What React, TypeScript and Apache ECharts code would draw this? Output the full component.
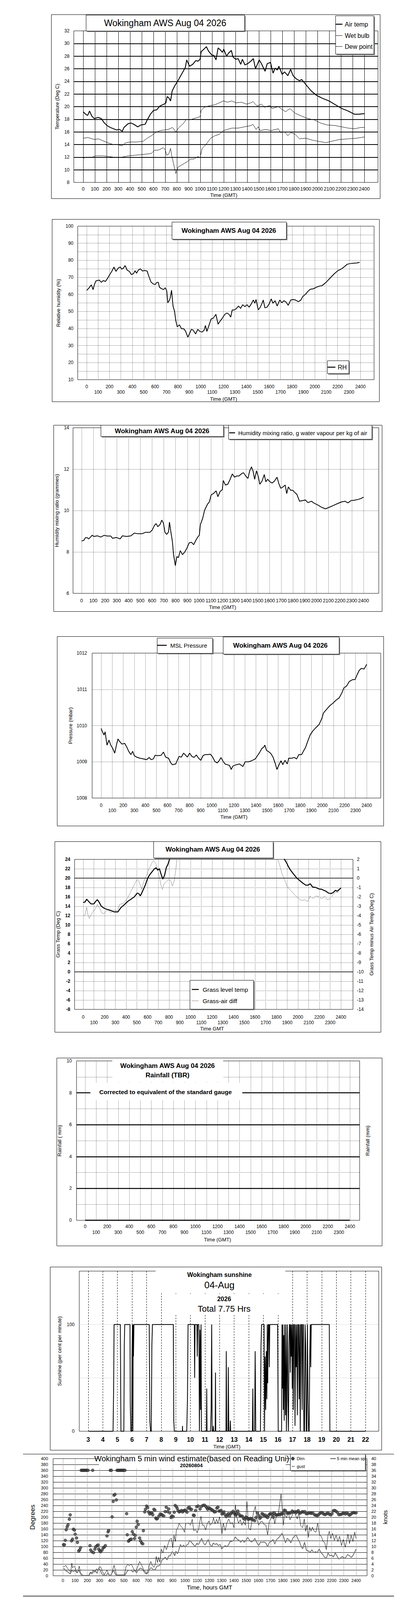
import React, { useEffect, useRef } from "react";
import * as echarts from "echarts";

const FONT = '"Liberation Sans", Arial, Helvetica, sans-serif';
const TITLE = "Wokingham AWS Aug 04 2026";

type Pt = [number, number];

// ---------- Chart 1: temperatures (Deg C) vs time (GMT, hhmm) ----------
const airTemp: Pt[] = [[0,19.2],[15,18.9],[38,18.6],[54,19.3],[74,18.5],[96,18.1],[128,18.3],[155,18.1],[177,17.5],[204,17.0],[231,16.7],[258,16.5],[285,16.3],[309,16.4],[334,16.1],[348,16.7],[384,17.3],[408,17.4],[433,17.2],[466,16.8],[493,17.1],[529,17.2],[547,17.9],[574,18.8],[601,19.4],[628,19.5],[655,20.1],[691,20.4],[706,20.6],[717,21.6],[731,21.4],[746,20.9],[760,22.5],[782,23.3],[809,24.1],[827,24.7],[854,25.6],[872,26.2],[884,27.4],[908,26.4],[935,26.7],[962,27.3],[980,27.2],[998,27.5],[1007,28.7],[1025,29.0],[1052,29.5],[1070,28.8],[1097,28.2],[1116,28.1],[1134,27.4],[1152,29.3],[1175,28.9],[1188,28.6],[1200,29.1],[1224,28.0],[1242,28.5],[1265,28.9],[1278,27.9],[1301,27.5],[1323,27.6],[1345,26.7],[1359,27.5],[1381,26.6],[1404,26.8],[1431,27.2],[1453,27.6],[1471,26.0],[1503,27.4],[1522,26.8],[1542,26.0],[1553,25.6],[1571,26.8],[1599,27.0],[1621,25.3],[1639,26.1],[1657,25.8],[1671,26.4],[1699,25.1],[1720,25.5],[1747,24.9],[1771,25.9],[1792,24.9],[1819,24.4],[1847,24.1],[1865,24.3],[1901,23.5],[1946,22.5],[1991,21.8],[2045,21.3],[2099,20.9],[2153,20.3],[2208,19.7],[2262,19.3],[2316,18.8],[2352,18.8],[2400,18.9]];
const wetBulb: Pt[] = [[0,15.0],[42,15.1],[96,14.8],[132,14.9],[168,14.6],[222,14.2],[258,14.0],[294,14.0],[330,13.8],[366,14.3],[403,14.4],[457,14.4],[511,14.5],[547,15.0],[583,15.4],[619,15.9],[655,16.2],[691,16.3],[727,16.4],[763,16.7],[791,16.0],[818,16.7],[854,17.3],[881,18.0],[908,17.9],[944,18.1],[998,18.4],[1007,19.4],[1034,19.9],[1070,20.1],[1125,20.3],[1161,20.6],[1197,20.9],[1233,20.7],[1269,20.9],[1305,20.6],[1350,20.7],[1395,20.4],[1431,20.6],[1449,20.8],[1485,20.1],[1522,20.4],[1549,19.9],[1594,20.2],[1612,19.7],[1666,20.0],[1702,19.5],[1729,19.2],[1765,19.7],[1810,18.95],[1865,18.5],[1919,18.1],[1973,17.9],[2027,17.4],[2081,17.1],[2153,17.0],[2208,16.8],[2262,16.6],[2316,16.5],[2370,16.7],[2400,16.7]];
const dewPoint: Pt[] = [[0,11.8],[23,12.0],[78,12.0],[105,12.2],[168,12.2],[222,12.1],[258,12.0],[330,12.0],[384,12.2],[439,12.3],[493,12.4],[547,12.5],[583,12.6],[610,13.1],[637,13.1],[664,13.3],[682,13.5],[700,13.2],[713,12.3],[731,12.5],[746,13.4],[755,12.3],[764,11.6],[776,10.6],[791,9.4],[809,10.4],[836,10.7],[863,11.0],[890,11.3],[917,11.7],[944,11.7],[980,12.1],[998,11.9],[1016,13.4],[1043,13.9],[1061,14.3],[1088,15.0],[1125,15.4],[1161,15.6],[1197,16.2],[1233,16.4],[1269,16.6],[1323,16.6],[1377,16.8],[1431,17.0],[1449,17.2],[1476,16.4],[1494,16.8],[1512,16.2],[1558,16.4],[1603,16.2],[1666,16.5],[1684,15.9],[1720,16.0],[1747,15.4],[1774,15.9],[1810,15.6],[1847,14.9],[1901,15.0],[1955,14.7],[2009,14.5],[2072,14.3],[2117,14.5],[2190,14.8],[2262,14.9],[2334,15.0],[2400,15.2]];

// ---------- Chart 2: relative humidity (%) ----------
const relHumidity: Pt[] = [[0,62.4],[17,63.5],[41,65.6],[56,62.8],[67,65.6],[81,67.9],[109,68.4],[128,67.1],[146,68.1],[165,67.6],[183,69.4],[202,71.6],[220,73.5],[239,76.0],[257,73.5],[276,75.4],[294,76.1],[307,74.8],[322,75.4],[337,76.9],[355,74.2],[374,73.5],[392,71.6],[411,72.2],[424,73.9],[437,72.4],[452,74.2],[470,75.0],[489,73.7],[507,74.0],[530,73.7],[544,70.8],[563,67.4],[581,66.2],[600,65.8],[615,67.0],[628,67.1],[637,64.3],[652,63.5],[674,62.8],[689,63.9],[702,62.0],[711,55.1],[726,56.6],[733,58.2],[744,62.4],[757,53.2],[770,50.2],[781,44.8],[794,41.0],[813,42.2],[831,39.9],[850,39.9],[868,38.3],[887,34.9],[900,36.8],[918,39.5],[933,39.1],[955,36.8],[974,39.5],[993,38.3],[1011,37.9],[1030,39.1],[1041,41.8],[1054,38.3],[1072,41.8],[1091,45.6],[1109,46.0],[1133,48.3],[1152,42.5],[1170,44.4],[1189,46.0],[1211,48.3],[1230,49.1],[1248,48.3],[1263,46.7],[1276,50.9],[1294,50.9],[1313,51.7],[1331,53.2],[1350,51.8],[1368,54.0],[1387,52.8],[1405,54.0],[1424,52.5],[1443,54.4],[1461,56.7],[1474,54.8],[1485,57.0],[1504,50.9],[1522,52.5],[1535,54.4],[1548,56.7],[1563,52.1],[1581,52.5],[1600,54.4],[1618,57.4],[1633,54.8],[1652,56.3],[1670,53.2],[1693,56.7],[1711,55.1],[1730,56.3],[1748,55.5],[1767,53.6],[1789,56.7],[1813,57.0],[1831,56.7],[1856,55.7],[1878,56.7],[1896,58.9],[1919,60.1],[1943,62.0],[1961,63.0],[1989,63.3],[2017,64.3],[2044,64.9],[2063,65.1],[2091,66.6],[2119,68.5],[2146,70.4],[2174,72.3],[2202,73.9],[2230,74.8],[2257,76.1],[2285,77.7],[2313,78.1],[2341,78.3],[2369,78.4],[2393,78.8]];

// ---------- Chart 3: humidity mixing ratio (g/kg) ----------
const mixingRatio: Pt[] = [[0,8.53],[19,8.56],[32,8.69],[48,8.69],[61,8.63],[76,8.72],[90,8.81],[105,8.75],[134,8.78],[162,8.72],[191,8.80],[219,8.77],[248,8.77],[263,8.66],[296,8.70],[328,8.63],[347,8.78],[382,8.75],[420,8.78],[448,8.91],[477,8.88],[515,8.88],[544,8.95],[582,8.95],[601,9.06],[620,9.28],[634,9.37],[649,9.22],[668,9.33],[683,9.54],[697,9.38],[710,8.94],[725,8.85],[740,8.97],[748,9.44],[759,9.00],[773,8.50],[782,7.90],[798,7.34],[811,7.78],[824,7.72],[840,8.06],[859,7.87],[878,8.00],[897,8.19],[916,8.44],[935,8.47],[954,8.35],[973,8.57],[989,8.72],[1002,8.81],[1011,9.32],[1031,9.63],[1046,10.0],[1059,10.16],[1073,10.32],[1088,10.42],[1103,10.76],[1122,10.82],[1145,10.95],[1160,10.67],[1179,10.92],[1198,11.01],[1206,11.45],[1225,11.23],[1244,11.27],[1263,11.49],[1283,11.77],[1302,11.61],[1321,11.67],[1340,11.67],[1359,11.77],[1378,11.83],[1397,11.67],[1416,11.55],[1431,11.92],[1446,12.11],[1460,11.90],[1473,11.51],[1489,11.92],[1504,11.64],[1517,11.27],[1536,11.42],[1555,11.74],[1568,11.39],[1584,11.51],[1603,11.39],[1622,11.33],[1641,11.42],[1664,11.61],[1679,11.30],[1695,11.08],[1714,11.14],[1733,11.23],[1746,10.82],[1760,11.14],[1779,10.98],[1798,10.98],[1817,10.86],[1832,10.79],[1855,10.45],[1880,10.48],[1905,10.51],[1927,10.38],[1956,10.45],[1981,10.35],[2013,10.26],[2042,10.16],[2076,10.08],[2109,10.16],[2137,10.23],[2176,10.33],[2214,10.42],[2242,10.45],[2267,10.37],[2294,10.48],[2324,10.50],[2357,10.54],[2385,10.60],[2400,10.65]];

// ---------- Chart 4: MSL pressure (mbar) ----------
const mslPressure: Pt[] = [[0,1009.92],[12,1009.83],[26,1009.74],[36,1009.83],[53,1009.46],[71,1009.60],[87,1009.46],[103,1009.38],[123,1009.24],[138,1009.46],[152,1009.63],[168,1009.56],[188,1009.49],[213,1009.51],[233,1009.40],[249,1009.29],[269,1009.20],[285,1009.29],[300,1009.17],[320,1009.13],[350,1009.10],[381,1009.08],[411,1009.06],[435,1009.12],[451,1009.06],[472,1009.08],[488,1009.18],[512,1009.17],[543,1009.18],[563,1009.27],[583,1009.13],[609,1009.10],[630,1008.97],[644,1008.92],[674,1008.94],[691,1009.06],[705,1009.15],[725,1009.13],[745,1009.24],[765,1009.18],[779,1009.13],[800,1009.24],[820,1009.15],[840,1009.12],[860,1009.19],[881,1009.10],[901,1009.04],[921,1009.17],[941,1009.20],[962,1009.20],[988,1009.21],[1008,1009.13],[1028,1009.01],[1049,1008.97],[1069,1009.04],[1083,1009.12],[1099,1009.03],[1120,1008.94],[1140,1008.92],[1160,1008.90],[1176,1008.79],[1190,1008.88],[1221,1008.92],[1251,1008.94],[1281,1008.87],[1302,1009.00],[1332,1009.00],[1362,1009.03],[1393,1009.08],[1413,1009.17],[1433,1009.26],[1453,1009.37],[1468,1009.40],[1480,1009.46],[1494,1009.32],[1514,1009.28],[1534,1009.23],[1555,1009.12],[1575,1008.94],[1589,1008.79],[1605,1008.90],[1626,1009.03],[1642,1008.92],[1662,1009.04],[1682,1008.94],[1696,1009.10],[1723,1009.10],[1747,1009.12],[1767,1009.08],[1787,1009.20],[1812,1009.20],[1828,1009.29],[1848,1009.40],[1869,1009.58],[1889,1009.74],[1913,1009.85],[1940,1009.94],[1970,1010.03],[1994,1010.19],[2010,1010.35],[2041,1010.46],[2067,1010.55],[2096,1010.62],[2123,1010.70],[2153,1010.77],[2177,1010.91],[2194,1011.04],[2218,1011.09],[2244,1011.22],[2275,1011.27],[2295,1011.27],[2315,1011.41],[2332,1011.52],[2352,1011.58],[2376,1011.56],[2386,1011.61],[2400,1011.69]];

// ---------- Chart 5: grass temperature (left, Deg C) and grass-air difference (right, Deg C) ----------
const grassTemp: Pt[] = [[0,14.8],[17,14.9],[33,15.5],[48,15.1],[73,14.5],[100,14.5],[115,15.0],[132,15.4],[148,14.9],[169,14.0],[194,13.6],[225,13.3],[257,13.1],[288,12.8],[324,12.8],[351,13.7],[382,14.3],[413,15.0],[445,15.5],[476,16.0],[503,16.8],[518,16.7],[532,16.2],[553,17.2],[580,18.6],[601,20.0],[622,20.8],[643,21.4],[664,22.0],[678,22.2],[695,21.7],[710,22.0],[726,20.8],[741,19.8],[758,20.6],[775,22.3],[789,22.9],[804,24.0],[817,24.5],[831,24.3],[848,24.8],[900,27.5],[1000,30.0],[1200,33.0],[1400,32.5],[1600,30.0],[1800,26.5],[1875,24.0],[1896,23.2],[1910,22.5],[1931,21.7],[1958,20.9],[1990,20.0],[2021,19.4],[2048,18.9],[2073,18.5],[2094,18.5],[2115,18.8],[2136,18.1],[2167,18.0],[2194,17.7],[2223,17.6],[2261,17.2],[2286,16.8],[2307,16.7],[2328,16.9],[2349,17.4],[2365,17.2],[2386,17.6],[2400,17.9]];
const grassAirDiff: Pt[] = [[0,-4.0],[15,-4.0],[33,-3.1],[44,-3.9],[58,-4.3],[73,-3.9],[90,-3.6],[111,-3.3],[132,-2.8],[152,-3.2],[173,-3.7],[194,-3.8],[215,-3.5],[236,-3.3],[257,-3.7],[288,-3.4],[319,-3.5],[340,-2.8],[372,-2.7],[403,-2.3],[424,-1.9],[449,-1.3],[476,-0.7],[503,-0.1],[518,-0.3],[545,-1.2],[566,-0.3],[587,0.2],[608,0.9],[628,1.3],[643,1.7],[658,1.85],[678,1.5],[695,0.9],[712,0.0],[726,-0.85],[737,-1.2],[753,-0.6],[774,-0.4],[795,-0.15],[816,-0.3],[831,-0.85],[848,-0.3],[862,0.8],[873,2.0],[950,3.8],[1200,4.8],[1500,4.5],[1750,3.2],[1812,2.0],[1827,1.5],[1844,0.8],[1854,0.4],[1875,-0.15],[1896,-0.8],[1923,-1.2],[1948,-1.5],[1979,-1.9],[2010,-2.2],[2035,-2.4],[2062,-2.3],[2090,-2.5],[2115,-1.9],[2140,-2.2],[2167,-1.9],[2198,-2.0],[2223,-2.2],[2250,-1.9],[2271,-2.3],[2298,-2.2],[2324,-1.8],[2349,-1.5],[2370,-1.55],[2386,-1.2],[2400,-1.05]];

// ---------- Chart 6: rainfall (mm) ----------
const rainfall: Pt[] = [[0,0],[100,0],[200,0],[300,0],[400,0],[500,0],[600,0],[700,0],[800,0],[900,0],[1000,0],[1100,0],[1200,0],[1300,0],[1400,0],[1500,0],[1600,0],[1700,0],[1800,0],[1900,0],[2000,0],[2100,0],[2200,0],[2300,0],[2400,0]];

// ---------- Chart 7: sunshine (per cent per minute) vs hour ----------
const sunshine: Pt[] = [[3.03,0],[4.70,0],[4.74,40],[4.77,100],[5.20,100],[5.24,0],[5.44,0],[5.47,80],[5.50,100],[5.86,100],[5.88,25],[5.92,0],[5.98,0],[6.00,70],[6.03,100],[6.06,0],[6.08,100],[6.10,70],[6.13,100],[7.18,100],[7.22,10],[7.27,0],[7.32,0],[7.36,80],[7.40,100],[8.83,100],[8.86,10],[8.90,0],[9.45,0],[9.46,5],[9.47,0],[9.75,0],[9.80,30],[9.84,100],[10.27,100],[10.29,50],[10.32,100],[10.45,100],[10.47,70],[10.50,100],[10.58,100],[10.62,0],[10.66,95],[10.70,20],[10.73,100],[10.76,0],[11.10,0],[11.12,40],[11.14,0],[11.38,0],[11.42,20],[11.46,100],[11.49,0],[11.55,0],[11.57,5],[11.60,0],[11.70,0],[11.72,55],[11.74,0],[12.44,0],[12.46,75],[12.49,0],[12.58,0],[12.60,60],[12.63,0],[12.72,0],[12.74,10],[12.76,0],[14.25,0],[14.28,40],[14.30,0],[14.40,0],[14.44,75],[14.48,0],[14.80,0],[14.84,80],[14.88,100],[15.05,100],[15.08,0],[15.12,70],[15.16,20],[15.20,75],[15.24,30],[15.27,100],[15.30,45],[15.34,100],[15.38,100],[15.41,60],[15.44,100],[15.98,100],[16.02,0],[16.25,0],[16.28,100],[16.31,40],[16.34,100],[16.37,20],[16.40,90],[16.43,10],[16.46,100],[16.49,50],[16.52,15],[16.55,100],[16.58,0],[16.62,60],[16.65,100],[16.68,30],[16.72,0],[16.76,80],[16.79,100],[16.82,100],[16.85,55],[16.88,100],[16.91,70],[16.95,100],[16.98,40],[17.02,100],[17.05,20],[17.09,100],[17.13,100],[17.17,5],[17.21,100],[17.25,60],[17.29,100],[17.33,15],[17.37,100],[17.41,100],[17.45,30],[17.49,100],[17.53,0],[17.57,100],[17.62,100],[17.66,20],[17.70,100],[17.74,100],[17.78,0],[17.82,0],[17.86,100],[17.90,80],[17.94,0],[17.98,0],[18.02,100],[18.06,30],[18.10,0],[18.14,0],[18.18,70],[18.22,100],[18.25,60],[18.28,100],[19.52,100],[19.56,0],[22.0,0]];

// ---------- Chart 8: wind direction (degrees), mean speed and gust (knots) ----------
const windDirection: Pt[] = [[5,106],[13,106],[20,121],[27,157],[35,167],[42,174],[53,193],[60,208],[71,119],[79,125],[86,159],[95,156],[101,142],[112,129],[119,114],[130,85],[137,88],[145,96],[150,360],[158,360],[166,360],[174,360],[182,360],[190,360],[198,360],[206,360],[222,103],[227,88],[238,82],[244,360],[251,79],[262,91],[269,99],[280,103],[288,105],[293,91],[302,85],[310,82],[321,88],[331,96],[339,98],[348,103],[361,136],[370,150],[375,155],[388,360],[397,360],[403,201],[412,254],[419,275],[427,278],[438,259],[443,360],[452,360],[460,360],[468,360],[476,360],[484,360],[492,360],[500,360],[508,360],[522,212],[527,140],[537,118],[544,121],[551,124],[559,125],[568,151],[577,142],[586,127],[592,138],[601,166],[608,186],[617,175],[628,129],[636,119],[645,112],[654,109],[659,154],[670,218],[676,227],[685,238],[694,233],[701,218],[711,211],[720,215],[729,215],[736,208],[745,227],[753,224],[760,197],[767,194],[775,196],[786,204],[797,211],[808,209],[815,207],[826,204],[837,219],[846,234],[855,219],[866,228],[874,215],[885,199],[892,204],[903,202],[912,217],[919,240],[929,236],[936,230],[943,222],[952,218],[962,220],[971,223],[980,218],[989,222],[998,224],[1007,222],[1016,217],[1024,231],[1035,234],[1044,227],[1053,227],[1068,207],[1075,206],[1086,223],[1095,236],[1108,238],[1123,228],[1134,237],[1147,240],[1158,241],[1170,237],[1178,232],[1185,227],[1194,232],[1203,230],[1212,227],[1222,225],[1231,222],[1240,218],[1251,219],[1260,231],[1269,234],[1278,221],[1288,221],[1295,223],[1302,211],[1310,214],[1319,218],[1328,208],[1337,202],[1346,208],[1355,212],[1364,204],[1374,212],[1383,215],[1392,220],[1401,215],[1408,210],[1416,207],[1423,212],[1432,221],[1441,211],[1450,204],[1460,204],[1469,203],[1478,196],[1487,193],[1498,200],[1507,198],[1516,193],[1526,194],[1535,196],[1544,193],[1557,191],[1570,188],[1581,199],[1593,215],[1603,206],[1612,196],[1621,200],[1630,212],[1639,210],[1648,204],[1658,207],[1667,201],[1676,199],[1685,207],[1694,211],[1703,212],[1712,210],[1722,200],[1731,214],[1740,209],[1749,207],[1760,208],[1767,210],[1777,208],[1786,212],[1795,211],[1804,214],[1813,224],[1822,222],[1833,214],[1845,215],[1855,214],[1866,215],[1877,221],[1888,217],[1900,219],[1909,215],[1918,219],[1927,222],[1938,214],[1947,215],[1960,219],[1969,217],[1980,219],[1991,212],[2002,212],[2013,215],[2024,214],[2035,213],[2046,214],[2060,208],[2071,207],[2082,205],[2093,209],[2104,213],[2115,216],[2126,214],[2137,210],[2148,209],[2159,212],[2170,214],[2181,210],[2192,208],[2203,212],[2214,222],[2225,223],[2236,220],[2247,216],[2258,209],[2269,209],[2280,210],[2291,213],[2302,214],[2313,211],[2324,215],[2335,211],[2346,207],[2357,210],[2368,214],[2379,216],[2390,215],[2400,215]];
const windMean: Pt[] = [[4,2.4],[13,2.4],[24,1.7],[42,1.3],[60,0.6],[73,1.9],[86,1.4],[101,1.9],[115,1.0],[130,1.9],[145,0.8],[152,0.1],[165,0.1],[201,0.1],[214,0.1],[225,1.0],[238,0.6],[251,1.3],[266,1.9],[280,0.8],[293,2.6],[306,2.0],[321,0.5],[335,0.1],[353,0.1],[366,0.8],[379,0.3],[390,0.1],[403,1.0],[416,1.9],[430,0.5],[440,0.1],[507,0.1],[522,1.3],[537,1.9],[559,1.9],[573,1.3],[588,1.9],[603,1.0],[617,1.9],[632,2.6],[647,2.4],[659,1.6],[672,1.6],[687,0.6],[700,1.3],[714,2.6],[727,2.7],[742,1.9],[756,2.2],[771,3.3],[786,3.4],[797,3.8],[811,5.4],[824,5.7],[837,6.4],[852,5.4],[866,6.8],[879,6.8],[894,8.2],[907,7.7],[916,6.8],[925,8.4],[938,7.5],[951,9.1],[962,10.7],[974,9.8],[987,10.5],[1000,9.8],[1013,10.5],[1026,10.8],[1038,12.1],[1053,11.4],[1068,10.7],[1081,9.9],[1095,11.0],[1110,10.7],[1123,11.7],[1136,12.8],[1150,11.2],[1163,10.5],[1178,11.5],[1190,12.4],[1203,10.8],[1218,9.9],[1231,11.2],[1245,10.7],[1258,11.0],[1273,10.3],[1288,10.7],[1300,9.1],[1313,9.8],[1328,10.3],[1342,9.9],[1355,10.5],[1368,11.7],[1383,11.7],[1397,12.1],[1412,13.3],[1427,12.4],[1441,12.2],[1456,11.4],[1471,12.2],[1484,11.4],[1498,12.1],[1513,13.1],[1527,12.2],[1542,11.5],[1557,11.9],[1571,12.8],[1586,11.4],[1603,10.3],[1617,11.5],[1632,11.4],[1646,11.5],[1661,11.2],[1676,9.9],[1690,11.4],[1705,11.7],[1720,12.4],[1734,10.8],[1749,12.4],[1764,12.9],[1778,13.6],[1793,14.5],[1808,13.1],[1822,11.2],[1837,12.8],[1852,12.2],[1866,11.2],[1881,12.8],[1896,13.5],[1908,14.0],[1923,12.6],[1938,11.5],[1951,9.9],[1963,9.2],[1978,11.5],[1993,8.7],[2009,8.5],[2024,8.0],[2038,8.9],[2053,7.9],[2068,8.2],[2082,7.9],[2097,9.1],[2112,8.0],[2126,7.3],[2141,6.4],[2156,5.9],[2170,7.8],[2185,6.8],[2200,7.1],[2214,6.4],[2229,7.8],[2243,6.8],[2258,5.7],[2273,6.1],[2287,6.6],[2302,5.9],[2317,6.4],[2331,7.3],[2346,6.8],[2361,6.3],[2372,6.8],[2388,8.0],[2399,9.1]];
const windGust: Pt[] = [[4,3.1],[13,3.1],[24,3.6],[37,2.6],[49,2.0],[64,1.2],[73,4.3],[79,2.7],[92,3.3],[101,2.7],[110,1.7],[119,1.0],[134,3.3],[145,0.8],[156,0.6],[165,0.1],[211,0.1],[225,1.3],[238,1.0],[247,1.9],[262,1.2],[275,2.4],[288,1.9],[299,3.1],[311,2.9],[324,1.5],[339,0.3],[350,1.2],[361,1.9],[372,0.8],[385,0.1],[397,0.5],[408,2.0],[419,3.6],[430,1.9],[440,0.3],[504,0.3],[518,3.3],[531,3.8],[544,3.4],[559,4.0],[573,2.9],[586,1.9],[599,1.5],[614,3.3],[628,4.9],[643,3.8],[658,2.4],[668,1.0],[683,0.6],[698,2.0],[709,3.8],[720,4.9],[733,3.4],[745,2.9],[756,3.8],[764,6.6],[775,4.5],[782,6.3],[793,4.7],[806,9.1],[819,7.8],[833,10.3],[848,8.9],[861,10.8],[874,12.4],[888,12.8],[899,9.6],[910,13.8],[921,11.7],[929,15.7],[940,16.3],[951,17.9],[965,17.0],[980,16.3],[995,14.9],[1007,17.9],[1026,18.0],[1044,17.3],[1059,19.3],[1071,15.4],[1086,15.7],[1099,14.7],[1112,16.1],[1123,18.9],[1130,20.3],[1141,17.3],[1154,17.3],[1168,15.6],[1181,17.7],[1196,18.7],[1207,17.3],[1222,17.9],[1233,19.8],[1245,17.7],[1258,19.3],[1269,17.9],[1282,20.1],[1295,16.8],[1302,14.2],[1313,18.0],[1328,15.4],[1342,18.0],[1357,19.4],[1374,17.7],[1386,18.2],[1401,16.4],[1412,24.2],[1423,20.1],[1438,18.0],[1452,19.1],[1465,17.2],[1478,18.6],[1493,17.3],[1507,25.4],[1520,16.4],[1535,15.6],[1548,18.9],[1562,21.9],[1575,23.7],[1588,19.4],[1603,17.3],[1617,18.4],[1632,18.6],[1646,17.5],[1661,17.3],[1676,14.0],[1690,18.7],[1705,19.6],[1720,21.9],[1734,17.7],[1749,20.8],[1764,21.4],[1775,24.7],[1786,28.0],[1795,23.0],[1804,17.3],[1815,21.2],[1830,19.8],[1845,21.5],[1859,19.1],[1874,20.3],[1888,21.9],[1905,20.8],[1918,19.4],[1932,21.5],[1947,17.0],[1962,16.4],[1976,19.4],[1987,15.2],[1998,17.3],[2009,13.1],[2020,16.6],[2031,15.2],[2042,16.6],[2057,15.2],[2071,14.9],[2086,18.0],[2101,13.8],[2115,13.5],[2130,11.7],[2143,11.4],[2156,8.9],[2170,13.8],[2181,15.2],[2192,12.8],[2207,14.5],[2222,12.1],[2236,13.8],[2251,11.7],[2265,13.5],[2280,10.3],[2295,12.4],[2311,9.8],[2322,11.7],[2333,14.2],[2346,11.0],[2359,13.8],[2374,11.7],[2388,14.9],[2399,12.8]];

function buildOption() {
  const grid: any[] = [];
  const xAxis: any[] = [];
  const yAxis: any[] = [];
  const series: any[] = [];
  const elements: any[] = [];

  const addGrid = (l: number, t: number, r: number, b: number, show = false) => {
    grid.push({ left: l, top: t, width: r - l, height: b - t, show, borderColor: "#000", borderWidth: 1, backgroundColor: "transparent", containLabel: false, outerBoundsMode: "none" });
    return grid.length - 1;
  };
  const addX = (o: any) => { xAxis.push(o); return xAxis.length - 1; };
  const addY = (o: any) => { yAxis.push(o); return yAxis.length - 1; };
  const hiddenX = (g: number) => addX({ gridIndex: g, type: "value", min: 0, max: 1, show: false });
  const hiddenY = (g: number, min: number, max: number) => addY({ gridIndex: g, type: "value", min, max, show: false });

  const lbl = (extra: any = {}) => ({ color: "#000", fontSize: 12, fontFamily: FONT, formatter: (v: number) => String(v), hideOverlap: false, showMinLabel: true, showMaxLabel: true, ...extra });
  const nameStyle = (size: number) => ({ color: "#000", fontSize: size, fontFamily: FONT });
  const twoRow = (v: number) => (Math.round(v / 100) % 2 === 1 ? "\n" + v : String(v));

  const valueY = (g: number, o: any) => addY({
    gridIndex: g, type: "value", axisLine: { show: false }, axisTick: { show: false },
    nameLocation: "middle", nameRotate: 90, nameMoveOverlap: false, ...o,
  });
  const timeX = (g: number, o: any) => addX({
    gridIndex: g, type: "value", min: 0, max: 2400, interval: 100,
    axisLine: { show: false }, axisTick: { show: false },
    nameLocation: "middle", nameMoveOverlap: false, ...o,
  });
  const line = (name: string, data: Pt[], xi: number, yi: number, color: string, width: number) => ({
    type: "line", name, data, xAxisIndex: xi, yAxisIndex: yi, symbol: "none", showSymbol: false,
    lineStyle: { color, width }, itemStyle: { color }, silent: true, animation: false, z: 3,
  });

  const frame = (x: number, y: number, w: number, h: number) =>
    elements.push({ type: "rect", z: 1, shape: { x: x + 0.5, y: y + 0.5, width: w, height: h }, style: { fill: "none", stroke: "#000", lineWidth: 1 } });
  const box = (x: number, y: number, w: number, h: number, shadow = true, border = true) => {
    if (shadow) elements.push({ type: "rect", z: 100, shape: { x: x + 3, y: y + 3, width: w, height: h }, style: { fill: "#808080" } });
    elements.push({ type: "rect", z: 101, shape: { x: x + 0.5, y: y + 0.5, width: w, height: h }, style: { fill: "#fff", stroke: border ? "#000" : "none", lineWidth: 1 } });
  };
  const txt = (text: string, x: number, y: number, size: number, weight = "normal", align = "center") =>
    elements.push({ type: "text", z: 102, x, y, style: { text, fill: "#000", fontSize: size, fontWeight: weight, fontFamily: FONT, textAlign: align, textVerticalAlign: "middle", verticalAlign: "middle" } });
  const seg = (x1: number, y: number, x2: number, stroke: string, lw: number) =>
    elements.push({ type: "line", z: 102, shape: { x1, y1: y, x2, y2: y }, style: { stroke, lineWidth: lw } });

  const dotted = { color: "#000", width: 1, type: [1, 2] };

  // ===== Chart 1 =====
  frame(131, 37, 842, 471);
  const a1 = addGrid(189, 79, 968, 467, true);
  hiddenX(a1);
  valueY(a1, { min: 8, max: 32, interval: 2, axisLabel: lbl({ margin: 11 }),
    splitLine: { show: true, showMinLine: false, showMaxLine: false, lineStyle: { color: "#000", width: 2 } },
    name: "Temperature (Deg C)", nameGap: 36, nameTextStyle: nameStyle(12.5) });
  const b1 = addGrid(213, 79, 933, 467);
  const x1 = timeX(b1, { axisLabel: lbl({ margin: 10, fontSize: 12.5 }), splitLine: { show: true, lineStyle: { color: "#000", width: 1 } },
    name: "Time (GMT)", nameGap: 26, nameTextStyle: nameStyle(13) });
  const y1 = hiddenY(b1, 8, 32);
  series.push(line("Dew point", dewPoint, x1, y1, "#000", 1));
  series.push(line("Wet bulb", wetBulb, x1, y1, "#000", 1));
  series.push(line("Air temp", airTemp, x1, y1, "#000", 2.2));
  box(220, 38, 406, 41);
  txt(TITLE, 423, 59, 23);
  box(859, 40, 98, 98);
  seg(860, 62, 877, "#000", 2.5); txt("Air temp", 883, 62, 16, "normal", "left");
  seg(860, 91, 877, "#000", 1); txt("Wet bulb", 883, 91, 16, "normal", "left");
  seg(860, 119, 877, "#000", 1); txt("Dew point", 883, 119, 16, "normal", "left");

  // ===== Chart 2 =====
  frame(133, 561, 838, 467);
  const a2 = addGrid(199, 579, 958, 972, true);
  hiddenX(a2);
  valueY(a2, { min: 10, max: 100, interval: 5, axisLabel: lbl({ margin: 11, formatter: (v: number) => (v % 10 === 0 ? String(v) : "") }),
    splitLine: { show: true, showMinLine: false, showMaxLine: false, lineStyle: dotted },
    name: "Relative humidity (%)", nameGap: 43, nameTextStyle: nameStyle(13) });
  const b2 = addGrid(222, 579, 923, 972);
  const x2 = timeX(b2, { axisLabel: lbl({ margin: 11, lineHeight: 14, formatter: twoRow }), splitLine: { show: true, lineStyle: dotted },
    name: "Time (GMT)", nameGap: 43, nameTextStyle: nameStyle(13) });
  const y2 = hiddenY(b2, 10, 100);
  series.push(line("RH", relHumidity, x2, y2, "#000", 2));
  box(440, 568, 293, 44);
  txt(TITLE, 586, 590, 17, "bold");
  box(838, 923, 55, 33);
  seg(839, 940, 859, "#000", 2.5); txt("RH", 865, 940, 16, "normal", "left");

  // ===== Chart 3 =====
  frame(137, 1088, 841, 477);
  const a3 = addGrid(187, 1095, 970, 1519, true);
  hiddenX(a3);
  valueY(a3, { min: 6, max: 14, interval: 2, axisLabel: lbl({ margin: 10 }),
    splitLine: { show: true, showMinLine: false, showMaxLine: false, lineStyle: dotted },
    name: "Humidity mixing ratio (grammes)", nameGap: 35, nameTextStyle: nameStyle(13) });
  const b3 = addGrid(209, 1095, 931, 1519);
  const x3 = timeX(b3, { axisLabel: lbl({ margin: 12, fontSize: 12.5 }), splitLine: { show: true, lineStyle: dotted },
    name: "Time (GMT)", nameGap: 29, nameTextStyle: nameStyle(13) });
  const y3 = hiddenY(b3, 6, 14);
  series.push(line("Humidity mixing ratio, g water vapour per kg of air", mixingRatio, x3, y3, "#000", 2));
  box(258, 1088, 314, 29);
  txt(TITLE, 415, 1103, 17, "bold");
  box(585, 1088, 367, 36);
  seg(587, 1108, 602, "#000", 2.5);
  txt("Humidity mixing ratio, g water vapour per kg of air", 610, 1108, 15, "normal", "left");

  // ===== Chart 4 =====
  frame(146, 1629, 836, 485);
  const a4 = addGrid(236, 1672, 975, 2043, true);
  hiddenX(a4);
  valueY(a4, { min: 1008, max: 1012, interval: 1, axisLabel: lbl({ margin: 13 }),
    splitLine: { show: true, showMinLine: false, showMaxLine: false, lineStyle: dotted },
    name: "Pressure (mbar)", nameGap: 49, nameTextStyle: nameStyle(13) });
  const b4 = addGrid(259, 1672, 939, 2043);
  const x4 = timeX(b4, { axisLabel: lbl({ margin: 12, lineHeight: 13.5, formatter: twoRow }), splitLine: { show: true, lineStyle: dotted },
    name: "Time (GMT)", nameGap: 42, nameTextStyle: nameStyle(13) });
  const y4 = hiddenY(b4, 1008, 1012);
  series.push(line("MSL Pressure", mslPressure, x4, y4, "#000", 2));
  box(402, 1633, 142, 39);
  seg(403, 1652, 427, "#000", 2.5); txt("MSL Pressure", 436, 1652, 15, "normal", "left");
  box(571, 1630, 297, 44);
  txt(TITLE, 718, 1652, 17, "bold");

  // ===== Chart 5 =====
  frame(140, 2154, 835, 488);
  const a5 = addGrid(191, 2200, 904, 2584, true);
  const hx5 = hiddenX(a5);
  const yl5 = valueY(a5, { min: -8, max: 24, interval: 2, axisLabel: lbl({ margin: 11, fontWeight: "bold" }),
    splitLine: { show: true, showMinLine: false, showMaxLine: false, lineStyle: dotted },
    name: "Grass Temp (Deg C)", nameGap: 36, nameTextStyle: nameStyle(13) });
  valueY(a5, { position: "right", min: -14, max: 2, interval: 1, axisLabel: lbl({ margin: 10 }), splitLine: { show: false },
    name: "Grass Temp minus Air Temp (Deg C)", nameGap: 41, nameTextStyle: nameStyle(13) });
  series.push({ type: "line", name: "zero lines", data: [], xAxisIndex: hx5, yAxisIndex: yl5, silent: true, animation: false,
    markLine: { silent: true, symbol: ["none", "none"], label: { show: false }, animation: false,
      lineStyle: { color: "#000", width: 1.5, type: "solid" }, data: [{ yAxis: 0 }, { yAxis: 20 }] } });
  const b5 = addGrid(213, 2200, 873, 2584);
  const x5 = timeX(b5, { axisLabel: lbl({ margin: 13, lineHeight: 14, formatter: twoRow }), splitLine: { show: true, lineStyle: dotted },
    name: "Time GMT", nameGap: 43, nameTextStyle: nameStyle(13) });
  const y5l = hiddenY(b5, -8, 24);
  const y5r = hiddenY(b5, -14, 2);
  series.push(line("Grass-air diff", grassAirDiff, x5, y5r, "#8a8a8a", 1));
  series.push(line("Grass level temp", grassTemp, x5, y5l, "#000", 2.5));
  box(393, 2154, 306, 42);
  txt(TITLE, 545, 2174, 17, "bold");
  box(486, 2509, 163, 74);
  seg(491, 2533, 509, "#000", 2.5); txt("Grass level temp", 519, 2533, 15.5, "normal", "left");
  seg(491, 2562, 509, "#808080", 1); txt("Grass-air diff", 519, 2562, 15.5, "normal", "left");

  // ===== Chart 6 =====
  frame(145, 2708, 833, 481);
  const a6 = addGrid(196, 2716, 921, 3124, true);
  hiddenX(a6);
  valueY(a6, { min: 0, max: 10, interval: 1, axisLabel: lbl({ margin: 12, formatter: (v: number) => (v % 2 === 0 ? String(v) : "") }),
    splitLine: { show: true, showMinLine: false, showMaxLine: false, lineStyle: dotted },
    name: "Rainfall ( mm)", nameGap: 37, nameTextStyle: nameStyle(13) });
  valueY(a6, { position: "right", min: 0, max: 10, interval: 2, axisLabel: { show: false },
    splitLine: { show: true, showMinLine: false, showMaxLine: false, lineStyle: { color: "#000", width: 2.5 } },
    name: "Rainfall (mm)", nameGap: 14, nameTextStyle: nameStyle(13) });
  const b6 = addGrid(218, 2716, 896, 3124);
  const x6 = timeX(b6, { axisLabel: lbl({ margin: 8, lineHeight: 15, formatter: twoRow }), splitLine: { show: true, lineStyle: dotted },
    name: "Time (GMT)", nameGap: 43, nameTextStyle: nameStyle(13) });
  const y6 = hiddenY(b6, 0, 10);
  series.push(line("Rainfall", rainfall, x6, y6, "#000", 3));
  box(287, 2713, 284, 57, false, false);
  txt(TITLE, 429, 2728, 17, "bold");
  txt("Rainfall (TBR)", 429, 2752, 17, "bold");
  box(231, 2771, 389, 46, false, false);
  txt("Corrected to equivalent of the standard gauge", 424, 2795, 15.5, "bold");

  // ===== Chart 7 =====
  frame(128, 3243, 849, 469);
  const a7 = addGrid(203, 3254, 970, 3664, true);
  hiddenX(a7);
  valueY(a7, { min: 0, max: 150, interval: 50, axisLabel: lbl({ margin: 12, formatter: (v: number) => (v === 0 || v === 100 ? String(v) : "") }),
    splitLine: { show: true, showMinLine: false, showMaxLine: false, lineStyle: { color: "#999", width: 1, type: [1, 2] } },
    name: "Sunshine (per cent per minute)", nameGap: 44, nameTextStyle: nameStyle(13) });
  const b7 = addGrid(226, 3254, 936, 3664);
  const x7 = addX({ gridIndex: b7, type: "value", min: 3, max: 22, interval: 1, axisLine: { show: false }, axisTick: { show: false },
    axisLabel: lbl({ margin: 13, fontSize: 16, fontWeight: "bold" }), splitLine: { show: true, lineStyle: { color: "#000", width: 1, type: [4, 3] } },
    name: "Time (GMT)", nameLocation: "middle", nameGap: 33, nameMoveOverlap: false, nameTextStyle: nameStyle(13) });
  const y7 = hiddenY(b7, 0, 150);
  series.push(line("Sunshine", sunshine, x7, y7, "#000", 2));
  box(398, 3252, 332, 58, false, false);
  box(418, 3312, 296, 54, false, false);
  txt("Wokingham sunshine", 562, 3263, 16, "bold");
  txt("04-Aug", 562, 3289, 24);
  txt("2026", 574, 3325, 16, "bold");
  txt("Total 7.75 Hrs", 574, 3350, 22);

  // ===== Chart 8 (kept inside the photographed height) =====
  const T8 = 3722;          // top rule
  const P8T = 3734;         // plot top (400 deg)
  const P8B = 4034;         // plot bottom (0 deg)
  seg(59, T8 + 0.5, 1009, "#000", 1);
  seg(59, 4086, 1009, "#000", 1.5);
  const a8 = addGrid(136, P8T, 940, P8B, true);
  hiddenX(a8);
  valueY(a8, { min: 0, max: 400, interval: 20, axisLabel: lbl({ margin: 13, fontSize: 11 }),
    splitLine: { show: true, showMinLine: false, showMaxLine: false, lineStyle: { color: "#000", width: 1 } },
    name: "Degrees", nameGap: 44, nameTextStyle: nameStyle(17) });
  valueY(a8, { position: "right", min: 0, max: 40, interval: 2, axisLabel: lbl({ margin: 11, fontSize: 11 }), splitLine: { show: false },
    name: "knots", nameGap: 39, nameTextStyle: nameStyle(15) });
  const b8 = addGrid(161, P8T, 912, P8B);
  const x8 = timeX(b8, { axisLabel: lbl({ margin: 6, fontSize: 11 }), splitLine: { show: true, lineStyle: dotted },
    name: "Time, hours GMT", nameGap: 22, nameTextStyle: nameStyle(15) });
  const y8d = hiddenY(b8, 0, 400);
  const y8k = hiddenY(b8, 0, 40);
  series.push(line("gust", windGust, x8, y8k, "#000", 1));
  series.push(line("5 min mean speed", windMean, x8, y8k, "#6e6e6e", 2));
  series.push({ type: "scatter", name: "Dirn", data: windDirection, xAxisIndex: x8, yAxisIndex: y8d, symbol: "circle", symbolSize: 7.5,
    itemStyle: { color: "#484848", borderColor: "#000", borderWidth: 0.8 }, silent: true, animation: false, z: 4 });
  box(253, T8 + 1, 478, 35, false, false);
  txt("Wokingham 5 min wind estimate(based on Reading Uni)", 491, P8T, 20);
  txt("20260804", 490, P8T + 17, 13, "bold");
  box(743, T8, 192, 42);
  elements.push({ type: "circle", z: 102, shape: { cx: 750, cy: P8T, r: 4 }, style: { fill: "#484848", stroke: "#000", lineWidth: 0.8 } });
  txt("Dirn", 760, P8T, 11, "normal", "left");
  seg(846, P8T, 860, "#6e6e6e", 2.5);
  txt("5 min mean sp", 863, P8T, 11, "normal", "left");
  seg(747, P8T + 20, 755, "#000", 1);
  txt("gust", 760, P8T + 20, 11, "normal", "left");

  return {
    animation: false,
    backgroundColor: "#fff",
    textStyle: { fontFamily: FONT, color: "#000" },
    grid, xAxis, yAxis, series,
    graphic: { elements },
  };
}

export default function App() {
  const ref = useRef<HTMLDivElement>(null);
  useEffect(() => {
    document.body.style.margin = "0";
    document.body.style.background = "#fff";
    const chart = echarts.init(ref.current as HTMLDivElement, null, { renderer: "svg" });
    chart.setOption(buildOption() as any);
    return () => chart.dispose();
  }, []);
  return <div ref={ref} style={{ width: 1050, height: 5085 }} />;
}
